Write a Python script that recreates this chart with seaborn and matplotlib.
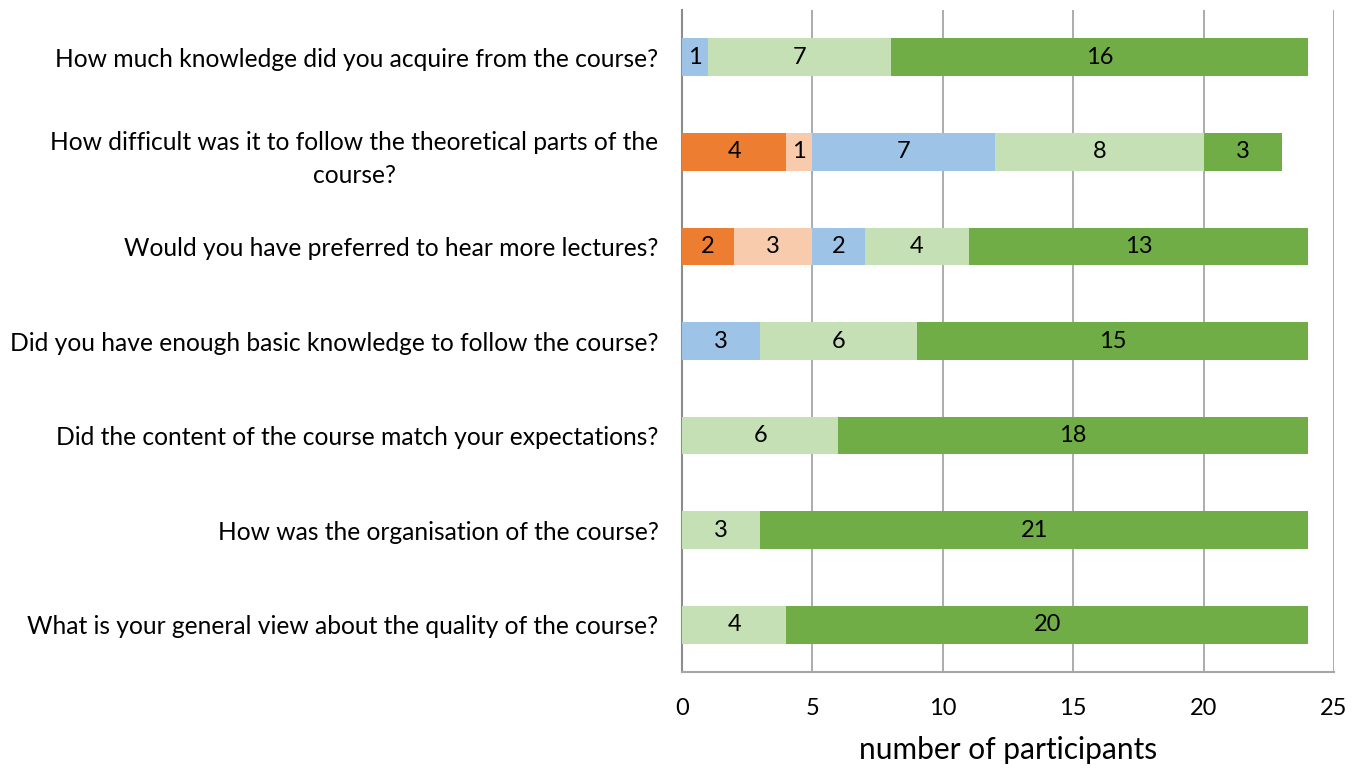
import matplotlib
matplotlib.use("Agg")
import matplotlib.pyplot as plt
import seaborn as sns
import pandas as pd
import numpy as np

questions = [
    "How much knowledge did you acquire from the course?",
    "How difficult was it to follow the theoretical parts of the\ncourse?",
    "Would you have preferred to hear more lectures?",
    "Did you have enough basic knowledge to follow the course?",
    "Did the content of the course match your expectations?",
    "How was the organisation of the course?",
    "What is your general view about the quality of the course?",
]
very_negative = [0, 4, 2, 0, 0, 0, 0]
negative      = [0, 1, 3, 0, 0, 0, 0]
neutral       = [1, 7, 2, 3, 0, 0, 0]
positive      = [7, 8, 4, 6, 6, 3, 4]
very_positive = [16, 3, 13, 15, 18, 21, 20]

series = [very_negative, negative, neutral, positive, very_positive]
colors = ["#ED7D31", "#F8CBAD", "#9DC3E6", "#C5E0B4", "#70AD47"]

sns.set_theme(style="white")
plt.rcParams["font.family"] = ["Lato", "DejaVu Sans"]
plt.rcParams["text.color"] = "black"
plt.rcParams["xtick.color"] = "black"
plt.rcParams["ytick.color"] = "black"
plt.rcParams["axes.labelcolor"] = "black"

fig = plt.figure(figsize=(13.61, 7.69), dpi=100)
ax = fig.add_axes([682/1361, 1-672/769, (1334-682)/1361, (672-10)/769])

vals = np.array(series, dtype=float)
cum = np.cumsum(vals, axis=0)
# draw cumulative totals from largest to smallest so they stack visually
for i in range(len(series) - 1, -1, -1):
    df = pd.DataFrame({"q": questions, "v": cum[i]})
    sns.barplot(data=df, y="q", x="v", orient="h", color=colors[i],
                width=0.4, ax=ax, saturation=1, linewidth=0, zorder=3)

# segment labels
for i in range(len(series)):
    for j in range(len(questions)):
        v = vals[i, j]
        if v > 0:
            ax.text(cum[i, j] - v / 2, j, f"{int(v)}", ha="center", va="center",
                    fontsize=17, color="black", zorder=5)

ax.set_xlim(0, 25)
ax.set_ylim(6.5, -0.5)
ax.set_xticks([0, 5, 10, 15, 20, 25])
ax.xaxis.grid(True, color="#A6A6A6", linewidth=1.3, zorder=0)
ax.yaxis.grid(False)
ax.set_axisbelow(True)
for s in ["top", "right"]:
    ax.spines[s].set_visible(False)
ax.spines["left"].set_color("#8C8C8C")
ax.spines["left"].set_linewidth(1.5)
ax.spines["bottom"].set_color("#A6A6A6")
ax.spines["bottom"].set_linewidth(1.5)
ax.tick_params(axis="x", length=0, pad=19, labelsize=17)
ax.tick_params(axis="y", length=0, pad=17, labelsize=17.7)
for lbl in ax.get_yticklabels():
    lbl.set_multialignment("center")
    lbl.set_linespacing(1.55)
ax.set_ylabel("")
ax.set_xlabel("number of participants", fontsize=21.5, labelpad=12)

fig.savefig("out.png", dpi=100)
